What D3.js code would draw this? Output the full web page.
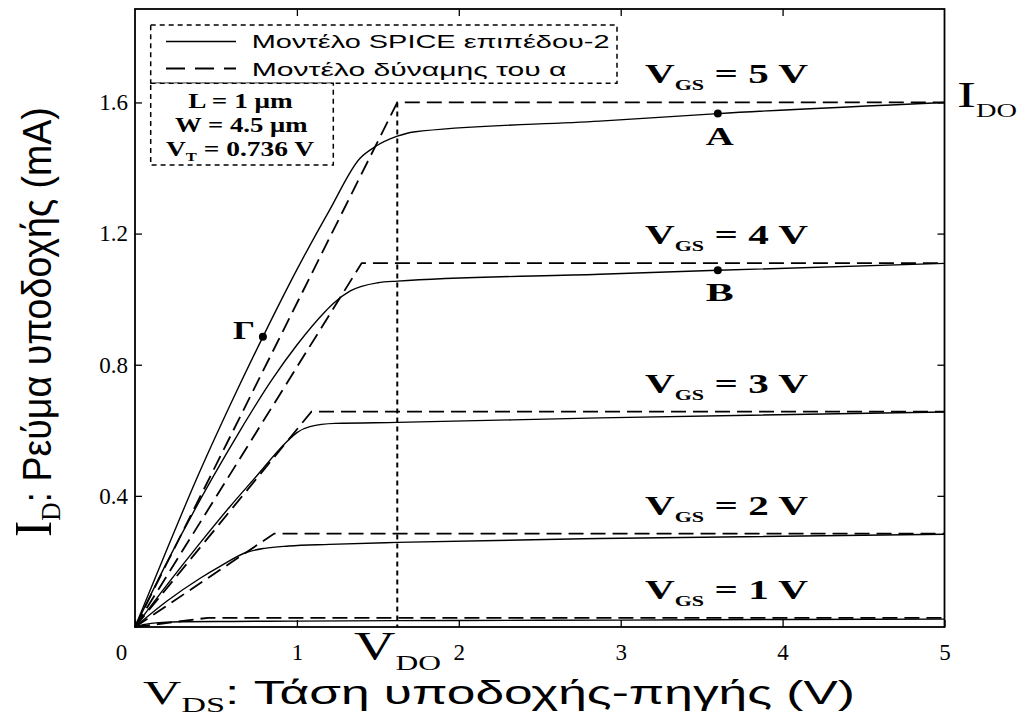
<!DOCTYPE html>
<html>
<head>
<meta charset="utf-8">
<script src="https://cdn.jsdelivr.net/npm/d3@7"></script>
<style>
body{margin:0;background:#fff;}
</style>
</head>
<body>
<div id="chart"></div>
<script>
//set size
var svgWidth=1019;
var svgHeight=716;

//set margins
var margin={top:9,right:74.5,bottom:89,left:135};
var width=svgWidth-margin.left-margin.right;
var height=svgHeight-margin.top-margin.bottom;

var serif="'Liberation Serif','Times New Roman',serif";
var sans="'Liberation Sans',Arial,sans-serif";

//axis ticks
var xTicks=[0,1,2,3,4,5];
var yTicks=[0.4,0.8,1.2,1.6];
var yMax=1.885;

//V_GS values of the curves
var vgsValues=[1,2,3,4,5];

//SPICE level-2 curves, [V_DS (V), I_D (mA)]
var spice1=[[0,0],[0.05,0.007],[0.1,0.011],[0.17,0.014],[0.3,0.016],[0.6,0.017],[1,0.018],[2,0.02],[3,0.021],[4,0.023],[5,0.024]];
var spice2=[[0,0],[0.2,0.08],[0.4,0.148],[0.525,0.185],[0.69,0.228],[0.8,0.24],[0.95,0.247],[1.2,0.252],[1.62,0.258],[2.87,0.27],[5,0.283]];
var spice3=[[0,0],[0.2,0.13],[0.4,0.255],[0.586,0.367],[0.75,0.46],[0.937,0.565],[1.0,0.593],[1.08,0.611],[1.235,0.621],[1.62,0.624],[2.87,0.638],[5,0.656]];
var spice4=[[0,0],[0.2,0.2],[0.473,0.45],[0.65,0.6],[0.844,0.753],[1.0,0.86],[1.184,0.967],[1.225,0.987],[1.33,1.025],[1.5,1.05],[1.62,1.055],[2.87,1.076],[3.6,1.088],[5,1.109]];
var spice5=[[0,0],[0.2,0.24],[0.37,0.44],[0.6,0.69],[0.79,0.885],[1.0,1.09],[1.2,1.27],[1.39,1.43],[1.48,1.464],[1.62,1.497],[1.72,1.51],[2.87,1.543],[3.6,1.566],[5,1.6]];
var spiceCurves=[spice1,spice2,spice3,spice4,spice5];

//alpha-power model: knee voltage and saturation current per V_GS
var alphaVsat=[0.45,0.86,1.09,1.40,1.62];
var alphaIsat=[0.028,0.285,0.657,1.11,1.60];

//marked points
var pointNames=["A","B","Γ"];
var pointV=[3.6,3.6,0.79];
var pointI=[1.566,1.088,0.885];

//V_DO / I_DO
var vdo=1.62;
var ido=1.6;

//legend texts
var legendTexts=["Μοντέλο SPICE επιπέδου-2","Μοντέλο δύναμης του α"];

var svg=d3.select("#chart")
    .append("svg")
    .attr("width",svgWidth)
    .attr("height",svgHeight);

var chartGroup=svg.append("g")
    .attr("transform",`translate(${margin.left},${margin.top})`);

var xLinearScale=d3.scaleLinear().domain([0,5]).range([0,width]);
var yLinearScale=d3.scaleLinear().domain([0,yMax]).range([height,0]);

//stretch a text group horizontally so that it spans targetW
function fitText(g,left,baseline,targetW){
    var bb=g.node().getBBox();
    var sx=targetW/bb.width;
    g.attr("transform",`translate(${left-bb.x*sx},${baseline}) scale(${sx},1)`);
}

//axes (ticks pointing in)
var bottomAxis=d3.axisBottom(xLinearScale).tickValues(xTicks).tickSize(-7).tickFormat(d3.format("d"));
var topAxis=d3.axisTop(xLinearScale).tickValues([1,2,3,4]).tickSize(-7).tickFormat("");
var leftAxis=d3.axisLeft(yLinearScale).tickValues(yTicks).tickSize(-7).tickPadding(7).tickFormat(d3.format(".1f"));
var rightAxis=d3.axisRight(yLinearScale).tickValues(yTicks).tickSize(-7).tickFormat("");

var xAxis=chartGroup.append("g")
    .attr("transform",`translate(0,${height})`)
    .call(bottomAxis);
xAxis.selectAll("text").attr("y",33).attr("dy",0);
xAxis.selectAll("text").filter(d=>d===0).attr("x",-14);

var yAxis=chartGroup.append("g").call(leftAxis);
chartGroup.append("g").call(topAxis);
chartGroup.append("g").attr("transform",`translate(${width},0)`).call(rightAxis);

chartGroup.selectAll(".domain").remove();
chartGroup.selectAll(".tick line").attr("stroke","#000").attr("stroke-width",1.3);
xAxis.attr("font-family",serif).attr("font-size",23);
yAxis.attr("font-family",serif).attr("font-size",23);
chartGroup.selectAll(".tick text")
    .style("font-family",serif)
    .style("font-size","23px")
    .attr("fill","#000");

//frame
chartGroup.append("rect")
    .attr("x",0).attr("y",0)
    .attr("width",width).attr("height",height)
    .attr("fill","none")
    .attr("stroke","#000")
    .attr("stroke-width",1.8);

//V_DO dotted line
chartGroup.append("line")
    .attr("x1",xLinearScale(vdo)).attr("x2",xLinearScale(vdo))
    .attr("y1",yLinearScale(ido)).attr("y2",height)
    .attr("stroke","#000")
    .attr("stroke-width",2)
    .attr("stroke-dasharray","5,4");

//alpha-power model (dashed)
var dashLine=d3.line()
    .x(d=>xLinearScale(d[0]))
    .y(d=>yLinearScale(d[1]));
chartGroup.selectAll(".alpha")
    .data(vgsValues)
    .enter()
    .append("path")
    .attr("class","alpha")
    .attr("d",(d,i)=>dashLine([[0,0],[alphaVsat[i],alphaIsat[i]],[5,alphaIsat[i]]]))
    .attr("fill","none")
    .attr("stroke","#000")
    .attr("stroke-width",1.8)
    .attr("stroke-dasharray","15,7");

//SPICE curves (solid)
var solidLine=d3.line()
    .x(d=>xLinearScale(d[0]))
    .y(d=>yLinearScale(d[1]))
    .curve(d3.curveMonotoneX);
chartGroup.selectAll(".spice")
    .data(spiceCurves)
    .enter()
    .append("path")
    .attr("class","spice")
    .attr("d",d=>solidLine(d))
    .attr("fill","none")
    .attr("stroke","#000")
    .attr("stroke-width",1.4);

//V_GS labels
vgsValues.forEach(function(v,i){
    var g=chartGroup.append("g");
    var t=g.append("text")
        .attr("font-family",serif)
        .attr("font-weight","bold")
        .attr("font-size",28);
    t.append("tspan").text("V");
    t.append("tspan").attr("font-size",15).attr("dy",7).text("GS");
    t.append("tspan").attr("dy",-7).text(" = "+v+" V");
    fitText(g,645-margin.left,yLinearScale(alphaIsat[i])-19,163);
});

//marked points
chartGroup.selectAll(".pt")
    .data(pointNames)
    .enter()
    .append("circle")
    .attr("class","pt")
    .attr("cx",(d,i)=>xLinearScale(pointV[i]))
    .attr("cy",(d,i)=>yLinearScale(pointI[i]))
    .attr("r",4)
    .attr("fill","#000");

pointNames.forEach(function(name,i){
    var g=chartGroup.append("g");
    g.append("text")
        .attr("font-family",serif)
        .attr("font-weight","bold")
        .attr("font-size",25)
        .text(name);
    var px=xLinearScale(pointV[i]);
    var py=yLinearScale(pointI[i]);
    if (name==="Γ") {
        fitText(g,px-30,py+2,22);
    }
    else {
        fitText(g,px-12,py+31,28);
    }
});

//I_DO label
var idoG=svg.append("g");
var idoT=idoG.append("text").attr("font-family",serif).attr("font-size",36);
idoT.append("tspan").text("I");
idoT.append("tspan").attr("font-size",18).attr("dy",10).text("DO");
fitText(idoG,957,107,60);

//V_DO label
var vdoG=svg.append("g");
var vdoT=vdoG.append("text").attr("font-family",serif).attr("font-size",40);
vdoT.append("tspan").text("V");
vdoT.append("tspan").attr("font-size",22).attr("dy",11).text("DO");
fitText(vdoG,354,659,87);

//x-axis label
var xl=svg.append("g");
var xlT=xl.append("text").attr("font-family",sans).attr("font-size",33);
xlT.append("tspan").attr("font-family",serif).attr("font-size",34).text("V");
xlT.append("tspan").attr("font-family",serif).attr("font-size",22).attr("dy",8).text("DS");
xlT.append("tspan").attr("dy",-8).text(": Τάση υποδοχής-πηγής (V)");
fitText(xl,143,704,712);

//y-axis label (rotated)
var yl=svg.append("g");
var ylT=yl.append("text").attr("font-family",sans).attr("font-size",40);
ylT.append("tspan").attr("font-family",serif).attr("font-size",52).text("I");
ylT.append("tspan").attr("font-family",serif).attr("font-size",27).attr("dy",9).text("D");
ylT.append("tspan").attr("dy",-9).text(": Ρεύμα υποδοχής (mA)");
var ybb=yl.node().getBBox();
yl.attr("transform",`translate(51,537) rotate(-90) scale(${430/ybb.width},1)`);

//legend box
var legBox=svg.append("g");
legBox.append("rect")
    .attr("x",150.7).attr("y",25)
    .attr("width",617-150.7).attr("height",83.3-25)
    .attr("fill","#fff")
    .attr("stroke","#000").attr("stroke-width",1.5)
    .attr("stroke-dasharray","5,4");
legBox.append("rect")
    .attr("x",150.7).attr("y",83.3)
    .attr("width",333.3-150.7).attr("height",165-83.3)
    .attr("fill","#fff")
    .attr("stroke","#000").attr("stroke-width",1.5)
    .attr("stroke-dasharray","5,4");

legBox.append("line")
    .attr("x1",166).attr("x2",236).attr("y1",41.5).attr("y2",41.5)
    .attr("stroke","#000").attr("stroke-width",1.4);
legBox.append("line")
    .attr("x1",166).attr("x2",236).attr("y1",68.5).attr("y2",68.5)
    .attr("stroke","#000").attr("stroke-width",1.8)
    .attr("stroke-dasharray","19,10");

var legWidths=[358,315];
var legBase=[47.7,75.5];
legendTexts.forEach(function(s,i){
    var g=legBox.append("g");
    g.append("text").attr("font-family",sans).attr("font-size",19).text(s);
    fitText(g,251.7,legBase[i],legWidths[i]);
});

//parameter texts
var pL=legBox.append("g");
pL.append("text").attr("font-family",serif).attr("font-weight","bold").attr("font-size",20).text("L = 1 μm");
fitText(pL,188.3,108.3,105);

var pW=legBox.append("g");
pW.append("text").attr("font-family",serif).attr("font-weight","bold").attr("font-size",20).text("W = 4.5 μm");
fitText(pW,175,131.7,133);

var pV=legBox.append("g");
var pVT=pV.append("text").attr("font-family",serif).attr("font-weight","bold").attr("font-size",20);
pVT.append("tspan").text("V");
pVT.append("tspan").attr("font-size",12).attr("dy",5).text("T");
pVT.append("tspan").attr("dy",-5).text(" = 0.736 V");
fitText(pV,166,156,149);
</script>
</body>
</html>
